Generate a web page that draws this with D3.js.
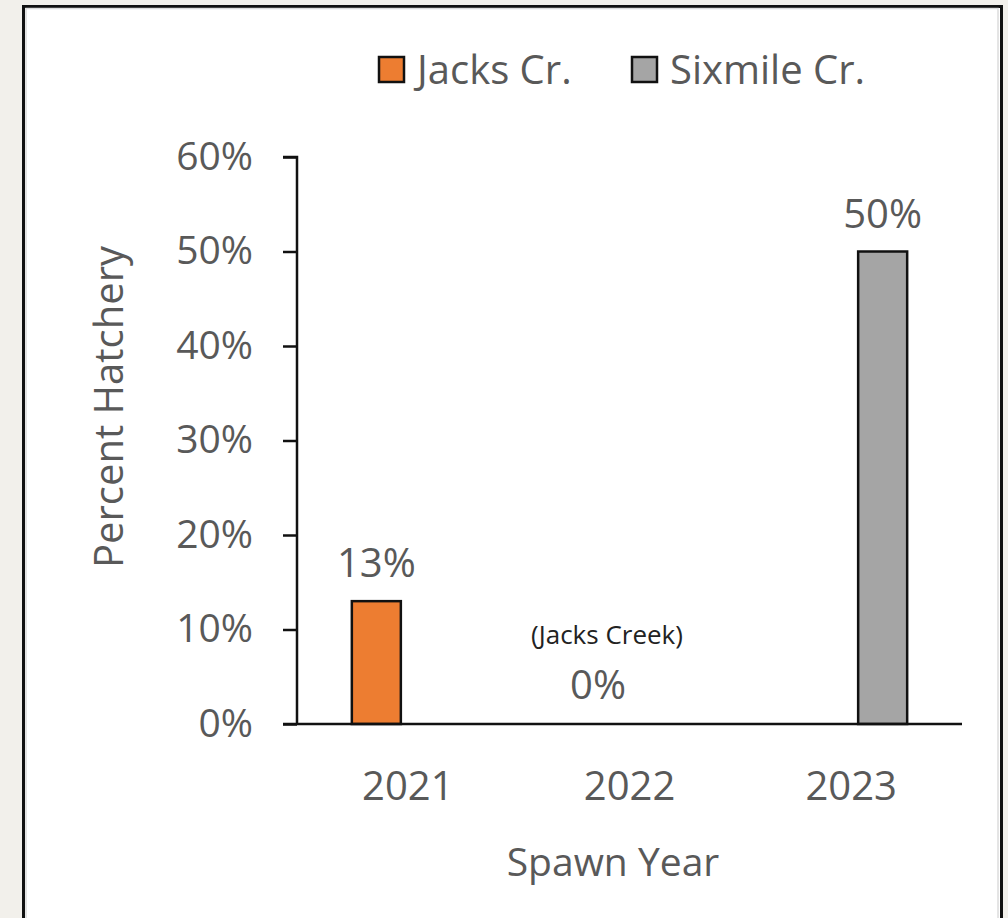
<!DOCTYPE html>
<html><head><meta charset="utf-8">
<script src="https://cdn.jsdelivr.net/npm/d3@7"></script>
<style>
html,body{margin:0;padding:0;background:#f2f0eb;}
svg{display:block;}
</style></head>
<body>
<svg id="c" width="1008" height="918"></svg>
<script>
const years = ["2021", "2022", "2023"];
const seriesNames = ["Jacks Cr.", "Sixmile Cr."];
const jacksValues = [0.13, 0.00, null];
const sixmileValues = [null, null, 0.50];
const yTicks = [0, 0.1, 0.2, 0.3, 0.4, 0.5, 0.6];
const colors = ["#ED7D31", "#A5A5A5"];
const notes = [{year: "2022", series: "Jacks Cr.", text: "(Jacks Creek)"}];

const svg = d3.select("#c");
const font = "'Open Sans', 'Noto Sans', sans-serif";
const textCol = "#595959";

// panel
svg.append("rect").attr("x", 23.5).attr("y", 6.5).attr("width", 978).attr("height", 930)
  .attr("fill", "#fff").attr("stroke", "#111").attr("stroke-width", 3);
svg.append("rect").attr("x", 26).attr("y", 8.5).attr("width", 972).attr("height", 930)
  .attr("fill", "none").attr("stroke", "#dcdcdc").attr("stroke-width", 1.5);

const m = {left: 297, right: 962, top: 157, bottom: 724};
const x0 = d3.scaleBand().domain(years).range([m.left, m.right]);
const x1 = d3.scaleBand().domain(seriesNames).range([-56, 56]).paddingInner(0.222).paddingOuter(0);
const y = d3.scaleLinear().domain([0, 0.6]).range([m.bottom, m.top]);

const data = [];
years.forEach((yr, i) => {
  data.push({year: yr, series: seriesNames[0], value: jacksValues[i], color: colors[0]});
  data.push({year: yr, series: seriesNames[1], value: sixmileValues[i], color: colors[1]});
});
const present = data.filter(d => d.value !== null);

// y axis
const yAxis = d3.axisLeft(y).tickValues(yTicks).tickFormat(d3.format(".0%")).tickSize(14).tickPadding(30);
const gy = svg.append("g").attr("transform", `translate(${m.left},0)`).call(yAxis);
gy.select(".domain").attr("stroke", "#111").attr("stroke-width", 2.5).attr("d", `M-14,${m.top}H0V${m.bottom}`);
gy.selectAll(".tick line").attr("stroke", "#111").attr("stroke-width", 2.5);
gy.selectAll(".tick text").attr("fill", textCol).style("font-family", font).style("font-size", "39px");

// bars
svg.append("g").selectAll("rect").data(present.filter(d => d.value > 0)).join("rect")
  .attr("x", d => x0(d.year) + x0.bandwidth() / 2 + x1(d.series))
  .attr("y", d => y(d.value))
  .attr("width", x1.bandwidth())
  .attr("height", d => y(0) - y(d.value))
  .attr("fill", d => d.color).attr("stroke", "#111").attr("stroke-width", 2.5);

// x axis
const xAxis = d3.axisBottom(x0).tickSize(0).tickPadding(48);
const gx = svg.append("g").attr("transform", `translate(0,${m.bottom})`).call(xAxis);
gx.select(".domain").attr("stroke", "#111").attr("stroke-width", 2.5).attr("d", `M${m.left - 14},0H${m.right}`);
gx.selectAll(".tick text").attr("fill", textCol).style("font-family", font).style("font-size", "40px");

// data labels
svg.append("g").selectAll("text").data(present).join("text")
  .attr("x", d => x0(d.year) + x0.bandwidth() / 2 + x1(d.series) + x1.bandwidth() / 2)
  .attr("y", d => d.value > 0 ? y(d.value) - 24 : y(0) - 25)
  .attr("text-anchor", "middle").attr("fill", textCol)
  .style("font-family", font).style("font-size", "40px")
  .text(d => d3.format(".0%")(d.value));

svg.append("g").selectAll("text").data(notes).join("text")
  .attr("x", d => x0(d.year) + x0.bandwidth() / 2 + x1(d.series) + x1.bandwidth() / 2 + 9)
  .attr("y", y(0) - 80)
  .attr("text-anchor", "middle").attr("fill", "#222")
  .style("font-family", font).style("font-size", "26px")
  .text(d => d.text);

// axis titles
svg.append("text").attr("x", 613).attr("y", 876).attr("text-anchor", "middle")
  .attr("fill", textCol).style("font-family", font).style("font-size", "39px").text("Spawn Year");
svg.append("text").attr("transform", "translate(123,407) rotate(-90)").attr("text-anchor", "middle")
  .attr("fill", textCol).style("font-family", font).style("font-size", "40px").text("Percent Hatchery");

// legend
const legX = [379, 632];
const lg = svg.append("g").selectAll("g").data(seriesNames).join("g")
  .attr("transform", (d, i) => `translate(${legX[i]},57)`);
lg.append("rect").attr("width", 25).attr("height", 25)
  .attr("fill", (d, i) => colors[i]).attr("stroke", "#111").attr("stroke-width", 2.5);
lg.append("text").attr("x", 38).attr("y", 27).attr("fill", textCol)
  .style("font-family", font).style("font-size", "40px").text(d => d);
</script>
</body></html>
